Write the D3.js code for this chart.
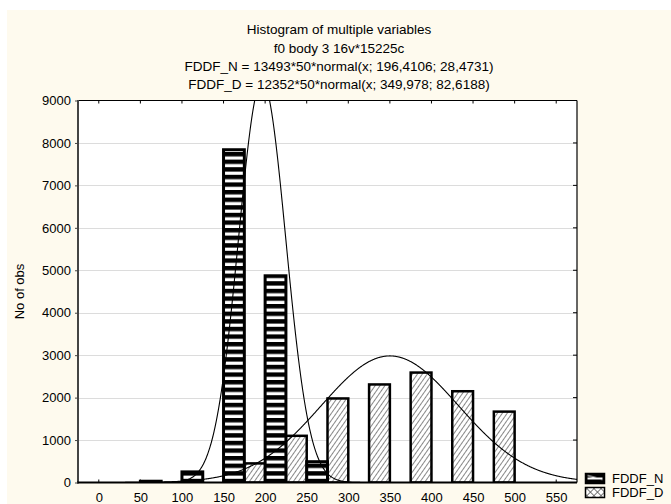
<!DOCTYPE html>
<html>
<head>
<meta charset="utf-8">
<script src="https://cdn.jsdelivr.net/npm/d3@7"></script>
<style>
  html, body { margin: 0; padding: 0; background: #ffffff; }
  svg { display: block; }
  text { font-family: "Liberation Sans", Arial, sans-serif; fill: #000; }
</style>
</head>
<body>
<svg id="chart" width="671" height="504"></svg>
<script>
// Histogram bins (lower edge of each 50-wide class)
const bins = [0, 50, 100, 150, 200, 250, 300, 350, 400, 450, 500, 550];
// Observed counts per bin
const countsN = [0, 30, 250, 7840, 4870, 490, 0, 0, 0, 0, 0, 0];
const countsD = [0, 0, 0, 450, 1100, 1980, 2310, 2590, 2150, 1670, 0, 0];
// Fitted normal curves: total * binWidth * normal(x; mean, sd)
const fitN = { total: 13493, width: 50, mean: 196.4106, sd: 28.4731 };
const fitD = { total: 12352, width: 50, mean: 349.978, sd: 82.6188 };
// Axis ticks and texts
const xTicks = [0, 50, 100, 150, 200, 250, 300, 350, 400, 450, 500, 550];
const yTicks = [0, 1000, 2000, 3000, 4000, 5000, 6000, 7000, 8000, 9000];
const titleLines = [
  "Histogram of multiple variables",
  "f0 body 3 16v*15225c",
  "FDDF_N = 13493*50*normal(x; 196,4106; 28,4731)",
  "FDDF_D = 12352*50*normal(x; 349,978; 82,6188)"
];
const seriesNames = ["FDDF_N", "FDDF_D"];
const yTitle = "No of obs";

const svg = d3.select("#chart");
const W = 671, H = 504;
const plot = { left: 78, right: 577, top: 100.5, bottom: 482.5 };

// Cream page background
svg.append("rect").attr("x", 7).attr("y", 10).attr("width", W - 7).attr("height", H - 10)
  .attr("fill", "#fefaee");

const x = d3.scaleLinear().domain([-25, 575]).range([plot.left, plot.right]);
const y = d3.scaleLinear().domain([0, 9000]).range([plot.bottom, plot.top]);

// Fill patterns
const defs = svg.append("defs");
const pN = defs.append("pattern").attr("id", "stripesN").attr("patternUnits", "userSpaceOnUse")
  .attr("width", 8).attr("height", 7.6);
pN.append("rect").attr("width", 8).attr("height", 7.6).attr("fill", "#fff");
pN.append("rect").attr("width", 8).attr("height", 4.4).attr("fill", "#000");

const pD = defs.append("pattern").attr("id", "hatchD").attr("patternUnits", "userSpaceOnUse")
  .attr("width", 4).attr("height", 4).attr("patternTransform", "rotate(35)");
pD.append("rect").attr("width", 4).attr("height", 4).attr("fill", "#fff");
pD.append("line").attr("x1", 0.5).attr("y1", 0).attr("x2", 0.5).attr("y2", 4)
  .attr("stroke", "#6a6a6a").attr("stroke-width", 0.8);

const pX = defs.append("pattern").attr("id", "crossD").attr("patternUnits", "userSpaceOnUse")
  .attr("width", 5).attr("height", 5).attr("patternTransform", "rotate(45)");
pX.append("rect").attr("width", 5).attr("height", 5).attr("fill", "#fff");
pX.append("line").attr("x1", 0.5).attr("y1", 0).attr("x2", 0.5).attr("y2", 5)
  .attr("stroke", "#555").attr("stroke-width", 0.8);
pX.append("line").attr("x1", 0).attr("y1", 0.5).attr("x2", 5).attr("y2", 0.5)
  .attr("stroke", "#555").attr("stroke-width", 0.8);

defs.append("clipPath").attr("id", "plotClip").append("rect")
  .attr("x", plot.left).attr("y", plot.top)
  .attr("width", plot.right - plot.left).attr("height", plot.bottom - plot.top);

// Plot area
svg.append("rect").attr("x", plot.left).attr("y", plot.top)
  .attr("width", plot.right - plot.left).attr("height", plot.bottom - plot.top)
  .attr("fill", "#fff");

// Horizontal grid
svg.append("g").selectAll("line").data(yTicks.filter(v => v > 0 && v < 9000)).join("line")
  .attr("x1", plot.left).attr("x2", plot.right)
  .attr("y1", d => Math.round(y(d)) + 0.5).attr("y2", d => Math.round(y(d)) + 0.5)
  .attr("stroke", "#dcdcdc").attr("stroke-width", 1);

// Bars: FDDF_N in the left half of each class, FDDF_D in the right half
const half = 25;
const barsN = bins.map((b, i) => ({ b, v: countsN[i] })).filter(d => d.v > 0);
const barsD = bins.map((b, i) => ({ b, v: countsD[i] })).filter(d => d.v > 0);

const gBars = svg.append("g").attr("clip-path", "url(#plotClip)");
gBars.selectAll("rect.d").data(barsD).join("rect").attr("class", "d")
  .attr("x", d => x(d.b + half)).attr("width", d => x(d.b + 2 * half) - x(d.b + half))
  .attr("y", d => y(d.v)).attr("height", d => y(0) - y(d.v))
  .attr("fill", "url(#hatchD)").attr("stroke", "#000").attr("stroke-width", 2.5);
gBars.selectAll("rect.n").data(barsN).join("rect").attr("class", "n")
  .attr("x", d => x(d.b)).attr("width", d => x(d.b + half) - x(d.b))
  .attr("y", d => y(d.v)).attr("height", d => y(0) - y(d.v))
  .attr("fill", "url(#stripesN)").attr("stroke", "#000").attr("stroke-width", 3);

// Fitted normal curves
function normalCurve(f) {
  const k = f.total * f.width / (f.sd * Math.sqrt(2 * Math.PI));
  return v => k * Math.exp(-0.5 * Math.pow((v - f.mean) / f.sd, 2));
}
const xs = d3.range(-25, 575.01, 0.5);
const line = d3.line().x(d => x(d[0])).y(d => y(d[1]));
const gCurves = svg.append("g").attr("clip-path", "url(#plotClip)");
[fitN, fitD].forEach(f => {
  const fn = normalCurve(f);
  gCurves.append("path").datum(xs.map(v => [v, fn(v)]))
    .attr("d", line).attr("fill", "none").attr("stroke", "#000").attr("stroke-width", 1.1);
});

// Frame
svg.append("line").attr("x1", plot.left).attr("x2", plot.right).attr("y1", plot.top).attr("y2", plot.top)
  .attr("stroke", "#000").attr("stroke-width", 1.2);
svg.append("line").attr("x1", plot.right).attr("x2", plot.right).attr("y1", plot.top).attr("y2", plot.bottom)
  .attr("stroke", "#000").attr("stroke-width", 1.2);
svg.append("line").attr("x1", plot.left).attr("x2", plot.left).attr("y1", plot.top - 0.6).attr("y2", plot.bottom + 1)
  .attr("stroke", "#444").attr("stroke-width", 2);
svg.append("line").attr("x1", plot.left - 1).attr("x2", plot.right).attr("y1", plot.bottom).attr("y2", plot.bottom)
  .attr("stroke", "#000").attr("stroke-width", 2);

// X axis (labels below, inward ticks on bottom and top)
const xAxis = d3.axisBottom(x).tickValues(xTicks).tickSize(0).tickPadding(10);
const gx = svg.append("g").attr("transform", `translate(0,${plot.bottom})`).call(xAxis);
gx.select(".domain").remove();
gx.selectAll("text").attr("font-size", 13).attr("font-family", "Liberation Sans, Arial, sans-serif");
svg.append("g").selectAll("line").data(xTicks).join("line")
  .attr("x1", d => x(d)).attr("x2", d => x(d)).attr("y1", plot.bottom).attr("y2", plot.bottom - 3)
  .attr("stroke", "#000");
svg.append("g").selectAll("line").data(xTicks).join("line")
  .attr("x1", d => x(d)).attr("x2", d => x(d)).attr("y1", plot.top).attr("y2", plot.top + 3)
  .attr("stroke", "#000");

// Y axis (labels left, short outward ticks; inward ticks on right frame)
const yAxis = d3.axisLeft(y).tickValues(yTicks).tickFormat(d3.format("d")).tickSize(3).tickPadding(4);
const gy = svg.append("g").attr("transform", `translate(${plot.left},0)`).call(yAxis);
gy.select(".domain").remove();
gy.selectAll("line").attr("stroke", "#444");
gy.selectAll("text").attr("font-size", 13).attr("font-family", "Liberation Sans, Arial, sans-serif");
svg.append("g").selectAll("line").data(yTicks).join("line")
  .attr("x1", plot.right).attr("x2", plot.right - 4).attr("y1", d => y(d)).attr("y2", d => y(d))
  .attr("stroke", "#000");

// Y axis title
svg.append("text").attr("transform", `translate(24,${(plot.top + plot.bottom) / 2}) rotate(-90)`)
  .attr("text-anchor", "middle").attr("font-size", 13).text(yTitle);

// Title block
const titleBase = [34, 52.5, 71, 88.5];
svg.append("g").selectAll("text").data(titleLines).join("text")
  .attr("x", 339).attr("y", (d, i) => titleBase[i])
  .attr("text-anchor", "middle").attr("font-size", 13.5).text(d => d);

// Legend
const lg = svg.append("g");
const legendFills = ["url(#stripesLeg)", "url(#crossD)"];
const pL = defs.append("pattern").attr("id", "stripesLeg").attr("patternUnits", "objectBoundingBox")
  .attr("width", 1).attr("height", 1);
pL.append("rect").attr("width", 19).attr("height", 10).attr("fill", "#000");
pL.append("rect").attr("x", 2).attr("y", 4).attr("width", 15).attr("height", 2).attr("fill", "#fff");
pL.append("line").attr("x1", 2).attr("y1", 2).attr("x2", 17).attr("y2", 6).attr("stroke", "#fff").attr("stroke-width", 1);
seriesNames.forEach((name, i) => {
  const yy = 473.5 + i * 14;
  lg.append("rect").attr("x", 585.5).attr("y", yy).attr("width", 19).attr("height", 10)
    .attr("fill", legendFills[i]).attr("stroke", "#000").attr("stroke-width", 1.5);
  lg.append("text").attr("x", 612).attr("y", yy + 9.5).attr("font-size", 13).text(name);
});
</script>
</body>
</html>
